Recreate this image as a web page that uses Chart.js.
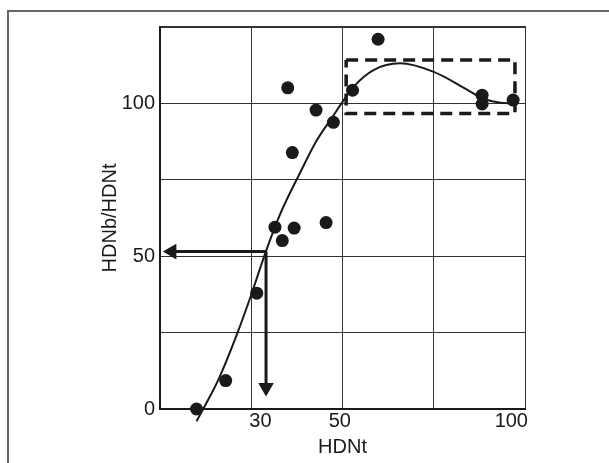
<!DOCTYPE html>
<html><head><meta charset="utf-8">
<script src="https://cdn.jsdelivr.net/npm/chart.js@4/dist/chart.umd.min.js"></script>
<style>
html,body{margin:0;padding:0;background:#fff;}
#wrap{position:relative;width:609px;height:463px;overflow:hidden;}
#frame{position:absolute;left:7px;top:10px;right:-10px;bottom:-10px;border-top:2px solid #666;border-left:2px solid #666;}
canvas{position:absolute;left:0;top:0;}
</style></head><body>
<div id="wrap"><div id="frame"></div><canvas id="c" width="609" height="463"></canvas></div>
<script>
// x axis is drawn in "grid column" units (4 equal columns); labels placed as in the figure
const xTickLabels = ['30', '50', '100'];
const xTickValues = [1.1, 1.97, 3.85];
const yTickLabels = ['0', '50', '100'];
const yTickValues = [0, 50, 100];

// measured points
const pointsX = [0.40, 0.72, 1.06, 1.26, 1.34, 1.47, 1.40, 1.45, 1.71, 1.82, 1.90, 2.11, 2.39, 3.53, 3.53, 3.87];
const pointsY = [0, 9.3, 37.9, 59.5, 55.1, 59.2, 105.1, 83.9, 97.8, 61.0, 93.8, 104.3, 121.0, 102.7, 99.8, 101.1];

// fitted curve
const curveX = [0.40, 0.49, 0.64, 0.85, 1.00, 1.16, 1.32, 1.53, 1.72, 1.90, 2.00, 2.12, 2.34, 2.63, 3.00, 3.36, 3.54, 3.73, 3.87];
const curveY = [-4, 0.9, 9.6, 25, 37.4, 51.5, 64, 77, 88, 96.0, 100.5, 105.4, 110.9, 113.1, 110.3, 104.6, 101.6, 100.2, 100];

// dashed box
const boxX = [2.04, 3.89, 3.89, 2.04, 2.04];
const boxY = [114.2, 114.2, 96.7, 96.7, 114.2];

// reading arrows
const arrowHX = [1.162, 0.13];
const arrowHY = [51.5, 51.5];
const arrowVX = [1.162, 1.162];
const arrowVY = [51.5, 7];

const zip = (xs, ys) => xs.map((x, i) => ({x, y: ys[i]}));
const FONT = {family: "'Liberation Sans', Arial, Helvetica, sans-serif", size: 20};
const INK = '#1a1a1a';

new Chart(document.getElementById('c'), {
  type: 'scatter',
  data: {
    datasets: [
      {
        label: 'points', data: zip(pointsX, pointsY), order: 0,
        pointRadius: 6.5, pointBackgroundColor: INK, pointBorderWidth: 0,
        showLine: false, clip: false
      },
      {
        label: 'curve', data: zip(curveX, curveY), order: 1,
        showLine: true, borderColor: INK, borderWidth: 2, pointRadius: 0,
        cubicInterpolationMode: 'monotone', clip: false
      },
      {
        label: 'box', data: zip(boxX, boxY), order: 2,
        showLine: true, borderColor: INK, borderWidth: 3.5, pointRadius: 0,
        borderDash: [12, 7], tension: 0, clip: false
      },
      {
        label: 'arrowH', data: zip(arrowHX, arrowHY), order: 3,
        showLine: true, borderColor: INK, borderWidth: 3, tension: 0,
        pointRadius: [0, 9], pointStyle: 'triangle', rotation: [0, -90],
        pointBackgroundColor: INK, pointBorderWidth: 0, clip: false
      },
      {
        label: 'arrowV', data: zip(arrowVX, arrowVY), order: 4,
        showLine: true, borderColor: INK, borderWidth: 3, tension: 0,
        pointRadius: [0, 9], pointStyle: 'triangle', rotation: [0, 180],
        pointBackgroundColor: INK, pointBorderWidth: 0, clip: false
      }
    ]
  },
  options: {
    responsive: false, animation: false, devicePixelRatio: 1,
    layout: {padding: {left: 98, top: 27, right: 84, bottom: 0}},
    plugins: {legend: {display: false}, tooltip: {enabled: false}},
    scales: {
      x: {
        type: 'linear', position: 'bottom', min: 0, max: 4,
        ticks: {display: false, stepSize: 1},
        grid: {color: '#333', lineWidth: 1, drawTicks: false},
        border: {color: INK, width: 2},
        afterFit: s => { s.height = 0; }
      },
      x2: {
        type: 'linear', position: 'bottom', min: 0, max: 4,
        afterBuildTicks: s => { s.ticks = xTickValues.map(v => ({value: v})); },
        ticks: {
          color: INK, font: FONT, padding: 0, maxRotation: 0, autoSkip: false,
          callback: (v) => { const i = xTickValues.indexOf(v); return i >= 0 ? xTickLabels[i] : ''; }
        },
        grid: {display: false, drawTicks: false},
        border: {display: false},
        title: {display: true, text: 'HDNt', color: INK, font: FONT, padding: {top: 0, bottom: 4}},
        afterFit: s => { s.height = 54; }
      },
      xTop: {
        type: 'linear', position: 'top', min: 0, max: 4,
        ticks: {display: false},
        grid: {display: false, drawTicks: false},
        border: {display: true, color: '#333', width: 1.5},
        afterFit: s => { s.height = 0; }
      },
      y: {
        type: 'linear', min: 0, max: 125,
        ticks: {
          stepSize: 25, color: INK, font: FONT, padding: 5,
          callback: (v) => { const i = yTickValues.indexOf(v); return i >= 0 ? yTickLabels[i] : ''; }
        },
        grid: {color: '#333', lineWidth: 1, drawTicks: false},
        border: {color: INK, width: 2},
        title: {display: true, text: 'HDNb/HDNt', color: INK, font: FONT, padding: 0},
        afterFit: s => { s.width = 62; }
      }
    }
  }
});
</script>
</body></html>
